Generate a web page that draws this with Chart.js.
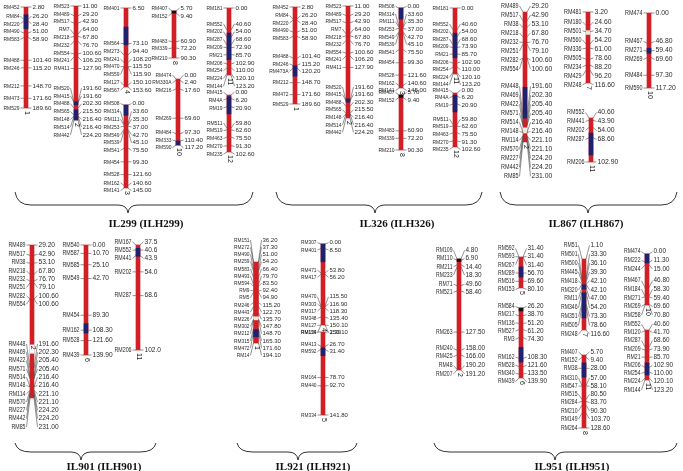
<!DOCTYPE html>
<html lang="en">
<head>
<meta charset="UTF-8">
<title>Linkage maps of introgression lines</title>
<style>
  html, body { margin: 0; padding: 0; background: #fff; }
  #wrap { width: 683px; height: 471px; }
</style>
</head>
<body>
<div id="wrap"><canvas id="mapChart" width="683" height="471"></canvas></div>

<script src="https://cdn.jsdelivr.net/npm/chart.js@4/dist/chart.umd.min.js"></script>
<script>
// ---- marker data (names + cM), segments: [from, to, kind] b=donor(blue) k=black p=pale w=gap
const lineTitles = ['IL299 (ILH299)', 'IL326 (ILH326)', 'IL867 (ILH867)', 'IL901 (ILH901)', 'IL921 (ILH921)', 'IL951 (ILH951)'];

const il299c1Names = ['RM452','RM84','RM220','RM490','RM583','RM488','RM246','RM212','RM473','RM529'];
const il299c1Pos = [2.8, 26.2, 28.4, 51.0, 58.9, 101.4, 115.2, 148.7, 171.6, 189.6];
const il299c1Seg = [[17, 43, 'b']];

const chr2aNames = ['RM523','RM489','RM517','RM7','RM218','RM232','RM554','RM241','RM411','RM520','RM415','RM488','RM565','RM148','RM514','RM442'];
const chr2aPos = [11.0, 29.2, 42.9, 64.0, 67.8, 76.7, 100.6, 106.2, 127.9, 191.6, 191.6, 202.3, 215.5, 216.4, 216.4, 224.2];
const il299c2Seg = [[190, 196, 'b'], [205, 224.2, 'b']];

const il299c4Names = ['RM401','RM564','RM273','RM241','RM470','RM559','RM127','RM567'];
const il299c4Pos = [6.5, 73.1, 94.4, 108.2, 115.5, 115.9, 150.1, 153.6];
const il299c4Seg = [[42, 75, 'b']];

const chr3Names = ['RM508','RM314','RM111','RM253','RM549','RM539','RM541','RM454','RM528','RM162','RM141'];
const chr3Pos = [0, 33.6, 35.3, 37.0, 42.7, 45.1, 75.5, 99.3, 121.6, 140.6, 145.0];
const il299c3Seg = [[0, 18, 'b']];

const chr8aNames = ['RM407','RM152','RM483','RM339','RM210'];
const chr8aPos = [5.7, 9.4, 60.9, 72.2, 90.3];
const chr8aSeg = [[5.7, 9.4, 'k']];

const il299c10Names = ['RM474','RM330A','RM216','RM269','RM484','RM333','RM590'];
const il299c10Pos = [0, 2.4, 17.6, 69.6, 97.3, 110.4, 117.2];
const il299c10Seg = [[110, 117.2, 'b']];

const chr11aNames = ['RM181','RM552','RM202','RM287','RM209','RM21','RM206','RM254','RM224','RM144'];
const il299c11Pos = [0, 40.6, 54.0, 68.6, 72.9, 85.7, 102.9, 110.0, 120.1, 123.2];
const il299c11Seg = [[46, 95, 'b']];

const chr12Names = ['RM415','RM4A','RM19','RM511','RM519','RM463','RM270','RM235'];
const chr12Pos = [0, 6.2, 20.9, 59.8, 62.6, 75.5, 91.3, 102.6];
const il299c12Seg = [[3, 34, 'b']];

const il326c1Names = ['RM452','RM84','RM220','RM490','RM583','RM488','RM246','RM473A','RM212','RM472','RM529'];
const il326c1Pos = [2.8, 26.2, 28.4, 51.0, 58.9, 101.4, 115.2, 120.2, 148.7, 171.6, 189.6];
const il326c1Seg = [[116, 136, 'b']];
const il326c2Seg = [[188, 194, 'b']];
const il326c3Seg = [[0, 20, 'b']];
const il326c11Pos = [0, 40.6, 54.0, 68.6, 73.9, 85.7, 102.9, 110.0, 120.1, 123.2];
const il326c11Seg = [[47, 93, 'b']];
const il326c12Seg = [[4, 36, 'b']];

const chr2bNames = ['RM489','RM517','RM38','RM218','RM232','RM251','RM282','RM554','RM448','RM469','RM422','RM571','RM514','RM148','RM114','RM570','RM227','RM442','RM85'];
const chr2bPos = [29.2, 42.9, 53.1, 67.8, 76.7, 79.1, 100.6, 100.6, 191.6, 202.3, 205.4, 205.4, 216.4, 216.4, 221.1, 221.1, 224.2, 224.2, 231.0];
const il867c2Seg = [[146, 194, 'b'], [209, 217, 'p']];
const il867c7Names = ['RM481','RM180','RM501','RM560','RM336','RM505','RM234','RM429','RM248'];
const il867c7Pos = [3.2, 24.6, 34.7, 54.2, 61.0, 78.6, 88.2, 96.2, 116.6];
const il867c7Seg = [[33, 39, 'p']];
const il867c10Names = ['RM474','RM467','RM271','RM269','RM484','RM590'];
const il867c10Pos = [0, 46.8, 59.4, 69.6, 97.3, 117.2];
const il867c10Seg = [[55, 63, 'b']];
const il867c11Names = ['RM552','RM441','RM202','RM287','RM206'];
const il867c11Pos = [40.6, 43.9, 54.0, 68.6, 102.9];
const il867c11Seg = [[62, 93, 'b']];

const il901c2Seg = [[161, 172, 'w']];
const il901c6Names = ['RM540','RM587','RM585','RM549','RM454','RM162','RM528','RM439'];
const il901c6Pos = [0, 10.7, 25.1, 42.7, 89.3, 108.3, 121.6, 139.9];
const il901c6Seg = [[100, 112, 'b']];
const il901c11Names = ['RM167','RM552','RM441','RM202','RM287','RM206'];
const il901c11Pos = [37.5, 40.6, 43.9, 54.0, 68.6, 102.0];
const il901c11Seg = [[39.5, 44.5, 'b']];

const il921c1Names = ['RM151','RM272','RM490','RM259','RM583','RM493','RM594','RM9','RM5','RM246','RM443','RM226','RM302','RM212','RM315','RM472','RM14'];
const il921c1Pos = [36.2, 37.3, 51.0, 54.2, 66.4, 79.7, 83.5, 92.4, 94.9, 115.2, 122.7, 135.7, 147.8, 148.7, 165.3, 171.6, 194.1];
const il921c1Seg = [[143, 149, 'p'], [168, 182, 'b']];
const il921c4Names = ['RM307','RM401','RM471','RM417','RM470','RM303','RM317','RM348','RM127','RM124'];
const il921c4Pos = [0, 8.5, 53.8, 56.2, 115.5, 116.9, 118.3, 135.4, 150.1, 150.1];
const il921c4Seg = [[0, 33, 'b']];
const il921c5Names = ['RM159','RM413','RM592','RM164','RM440','RM334'];
const il921c5Pos = [2.3, 26.7, 31.4, 78.7, 92.7, 141.8];
const il921c5Seg = [[29, 42, 'b']];

const il951c2Names = ['RM109','RM110','RM211','RM233','RM71','RM521','RM263','RM240','RM425','RM48','RM207'];
const il951c2Pos = [4.8, 6.9, 14.4, 18.3, 49.6, 58.4, 127.5, 158.0, 166.0, 190.2, 191.2];
const il951c2Seg = [[4.8, 9, 'k']];
const il951c5Names = ['RM592','RM593','RM267','RM289','RM516','RM153'];
const il951c5Pos = [31.4, 31.4, 31.4, 56.7, 69.6, 80.1];
const il951c5Seg = [[47, 63, 'b']];
const il951c6Names = ['RM584','RM217','RM136','RM527','RM3','RM162','RM528','RM340','RM439'];
const il951c6Pos = [26.2, 38.7, 51.2, 61.2, 74.3, 108.3, 121.6, 133.5, 139.9];
const il951c6Seg = [[26.2, 31, 'k'], [90, 114, 'b']];
const il951c7Names = ['RM51','RM501','RM500','RM445','RM418','RM320','RM11','RM346','RM351','RM505','RM248'];
const il951c7Pos = [1.1, 33.3, 36.1, 39.3, 42.1, 42.1, 47.0, 54.2, 73.3, 78.6, 116.6];
const il951c7Seg = [[43, 50, 'b'], [56, 97, 'b']];
const il951c8Names = ['RM407','RM152','RM38','RM310','RM547','RM515','RM284','RM210','RM149','RM264'];
const il951c8Pos = [5.7, 9.4, 28.0, 57.0, 58.1, 80.5, 83.7, 90.3, 103.7, 128.6];
const il951c8Seg = [[19, 43, 'b']];
const il951c10Names = ['RM474','RM222','RM244','RM467','RM184','RM271','RM269','RM258'];
const il951c10Pos = [0, 11.3, 15.0, 46.8, 58.3, 59.4, 69.6, 70.8];
const il951c10Seg = [[0, 12.5, 'b']];
const il951c11Names = ['RM552','RM120','RM287','RM209','RM21','RM206','RM254','RM224','RM144'];
const il951c11Pos = [40.6, 41.7, 68.6, 73.9, 85.7, 102.9, 110.0, 120.1, 123.2];
const il951c11Seg = [[95, 115, 'b']];

// ---- layout: where each panel / chromosome sits on the page (pixels)
const panels = [
  { x1: 15,  x2: 253, tip: 128, tx: 146, by: 192, mid: 13, tipH: 21, ty: 224, gap: 7.8, font: 6.2 },
  { x1: 276, x2: 482, tip: 375, tx: 397, by: 192, mid: 13, tipH: 21, ty: 224, gap: 7.6, font: 6.2 },
  { x1: 500, x2: 677, tip: 588, tx: 586, by: 192, mid: 13, tipH: 21, ty: 224, gap: 9.0, font: 6.8 },
  { x1: 15,  x2: 156, tip: 81,  tx: 104, by: 443, mid: 9,  tipH: 17, ty: 467, gap: 8.3, font: 6.6 },
  { x1: 237, x2: 357, tip: 298, tx: 313, by: 443, mid: 9,  tipH: 17, ty: 467, gap: 7.2, font: 6.0 },
  { x1: 434, x2: 677, tip: 555, tx: 572, by: 443, mid: 9,  tipH: 17, ty: 467, gap: 8.2, font: 6.4 }
];

const chroms = [
  { p: 0, chr: '1',  names: il299c1Names,  pos: il299c1Pos,  seg: il299c1Seg,  x: 26,  top: 7,   bottom: 108 },
  { p: 0, chr: '2',  names: chr2aNames,    pos: chr2aPos,    seg: il299c2Seg,  x: 76,  top: 6,   bottom: 120 },
  { p: 0, chr: '4',  names: il299c4Names,  pos: il299c4Pos,  seg: il299c4Seg,  x: 126, top: 8,   bottom: 87 },
  { p: 0, chr: '3',  names: chr3Names,     pos: chr3Pos,     seg: il299c3Seg,  x: 126, top: 105, bottom: 188 },
  { p: 0, chr: '8',  names: chr8aNames,    pos: chr8aPos,    seg: chr8aSeg,    x: 174, top: 11,  bottom: 58 },
  { p: 0, chr: '10', names: il299c10Names, pos: il299c10Pos, seg: il299c10Seg, x: 178, top: 79,  bottom: 145 },
  { p: 0, chr: '11', names: chr11aNames,   pos: il299c11Pos, seg: il299c11Seg, x: 229, top: 8,   bottom: 75 },
  { p: 0, chr: '12', names: chr12Names,    pos: chr12Pos,    seg: il299c12Seg, x: 229, top: 95,  bottom: 152 },

  { p: 1, chr: '1',  names: il326c1Names,  pos: il326c1Pos,  seg: il326c1Seg,  x: 295, top: 7,   bottom: 104 },
  { p: 1, chr: '2',  names: chr2aNames,    pos: chr2aPos,    seg: il326c2Seg,  x: 348, top: 6,   bottom: 118 },
  { p: 1, chr: '3',  names: chr3Names,     pos: chr3Pos,     seg: il326c3Seg,  x: 401, top: 8,   bottom: 88 },
  { p: 1, chr: '8',  names: chr8aNames,    pos: chr8aPos,    seg: chr8aSeg,    x: 401, top: 95,  bottom: 150 },
  { p: 1, chr: '11', names: chr11aNames,   pos: il326c11Pos, seg: il326c11Seg, x: 455, top: 8,   bottom: 74 },
  { p: 1, chr: '12', names: chr12Names,    pos: chr12Pos,    seg: il326c12Seg, x: 455, top: 93,  bottom: 147 },

  { p: 2, chr: '2',  names: chr2bNames,    pos: chr2bPos,    seg: il867c2Seg,  x: 525, top: 12,  bottom: 142 },
  { p: 2, chr: '7',  names: il867c7Names,  pos: il867c7Pos,  seg: il867c7Seg,  x: 588, top: 12,  bottom: 83 },
  { p: 2, chr: '10', names: il867c10Names, pos: il867c10Pos, seg: il867c10Seg, x: 649, top: 13,  bottom: 88 },
  { p: 2, chr: '11', names: il867c11Names, pos: il867c11Pos, seg: il867c11Seg, x: 591, top: 118, bottom: 162 },

  { p: 3, chr: '2',  names: chr2bNames,    pos: chr2bPos,    seg: il901c2Seg,  x: 32,  top: 245, bottom: 398, numAt: 166 },
  { p: 3, chr: '6',  names: il901c6Names,  pos: il901c6Pos,  seg: il901c6Seg,  x: 86,  top: 245, bottom: 355 },
  { p: 3, chr: '11', names: il901c11Names, pos: il901c11Pos, seg: il901c11Seg, x: 138, top: 245, bottom: 350, dec: 1 },

  { p: 4, chr: '1',  names: il921c1Names,  pos: il921c1Pos,  seg: il921c1Seg,  x: 256, top: 262, bottom: 343, w: 5 },
  { p: 4, chr: '4',  names: il921c4Names,  pos: il921c4Pos,  seg: il921c4Seg,  x: 323, top: 244, bottom: 325 },
  { p: 4, chr: '5',  names: il921c5Names,  pos: il921c5Pos,  seg: il921c5Seg,  x: 323, top: 332, bottom: 415 },

  { p: 5, chr: '2',  names: il951c2Names,  pos: il951c2Pos,  seg: il951c2Seg,  x: 459, top: 259, bottom: 370 },
  { p: 5, chr: '5',  names: il951c5Names,  pos: il951c5Pos,  seg: il951c5Seg,  x: 521, top: 257, bottom: 288 },
  { p: 5, chr: '6',  names: il951c6Names,  pos: il951c6Pos,  seg: il951c6Seg,  x: 521, top: 308, bottom: 378 },
  { p: 5, chr: '7',  names: il951c7Names,  pos: il951c7Pos,  seg: il951c7Seg,  x: 584, top: 259, bottom: 330, gap: 8.9 },
  { p: 5, chr: '8',  names: il951c8Names,  pos: il951c8Pos,  seg: il951c8Seg,  x: 584, top: 355, bottom: 428 },
  { p: 5, chr: '10', names: il951c10Names, pos: il951c10Pos, seg: il951c10Seg, x: 647, top: 254, bottom: 305, gap: 8.6 },
  { p: 5, chr: '11', names: il951c11Names, pos: il951c11Pos, seg: il951c11Seg, x: 647, top: 330, bottom: 380 }
];

const W = 683, H = 471;
const segColors = { r: '#d21f26', b: '#1f216e', k: '#111111', p: '#e6ede0', w: '#ffffff' };

// build one dataset + one hidden y axis per chromosome
const datasets = [];
const scales = { x: { type: 'linear', min: 0, max: W, display: false, offset: false } };
chroms.forEach((c, i) => {
  const a = c.pos[0], b = c.pos[c.pos.length - 1];
  const ppc = (c.bottom - c.top) / (b - a);
  const min = a - c.top / ppc;
  scales['y' + i] = { type: 'linear', display: false, reverse: true, min: min, max: min + H / ppc,
                      stacked: false, beginAtZero: false, bounds: 'data' };
  const segs = [[a, b, 'r']].concat(c.seg);
  datasets.push({
    type: 'bar',
    yAxisID: 'y' + i,
    stack: 'map',
    barThickness: c.w || 4,
    data: segs.map(s => ({ x: c.x, y: [s[0], s[1]] })),
    backgroundColor: segs.map(s => segColors[s[2]]),
    borderWidth: 0
  });
});

// push overlapping labels apart, keeping each cluster centred on its markers
function spread(ys, gap) {
  let groups = ys.map(y => ({ items: [y], top: y }));
  let merged = true;
  while (merged) {
    merged = false;
    for (let g = 0; g < groups.length - 1; g++) {
      const a = groups[g], b = groups[g + 1];
      if (a.top + a.items.length * gap > b.top + 0.01) {
        const items = a.items.concat(b.items);
        const mean = items.reduce((s, v) => s + v, 0) / items.length;
        groups.splice(g, 2, { items: items, top: mean - (items.length - 1) * gap / 2 });
        merged = true;
        break;
      }
    }
  }
  const out = [];
  groups.forEach(g => g.items.forEach((_, k) => out.push(g.top + k * gap)));
  return out;
}

const mapLabels = {
  id: 'mapLabels',
  afterDatasetsDraw(chart) {
    const ctx = chart.ctx;
    const xs = chart.scales.x;
    chroms.forEach((c, i) => {
      const ys = chart.scales['y' + i];
      const p = panels[c.p];
      const bx = xs.getPixelForValue(c.x);
      const half = (c.w || 4) / 2;
      const trueY = c.pos.map(v => ys.getPixelForValue(v));
      const labY = spread(trueY, c.gap || p.gap);
      ctx.save();
      ctx.strokeStyle = '#4a4a4a';
      ctx.lineWidth = 0.6;
      ctx.fillStyle = '#2b2b2b';
      ctx.font = p.font + 'px "Liberation Sans", Arial, sans-serif';
      ctx.textBaseline = 'middle';
      trueY.forEach((ty, k) => {
        const ly = labY[k];
        ctx.beginPath();
        ctx.moveTo(bx - half, ty); ctx.lineTo(bx - 5.5, ly);
        ctx.moveTo(bx + half, ty); ctx.lineTo(bx + 5.5, ly);
        ctx.stroke();
        ctx.save();
        ctx.translate(bx - 6.5, ly);
        ctx.scale(0.8, 1);
        ctx.textAlign = 'right';
        ctx.fillText(c.names[k], 0, 0);
        ctx.restore();
        ctx.textAlign = 'left';
        ctx.fillText(c.pos[k].toFixed(c.dec || 2), bx + 6.5, ly);
      });
      // chromosome number, rotated like the original
      const ny = c.numAt !== undefined ? ys.getPixelForValue(c.numAt) - 3 : ys.getPixelForValue(c.pos[c.pos.length - 1]) + 3;
      ctx.translate(bx + 0.5, ny);
      ctx.rotate(Math.PI / 2);
      ctx.font = '7px "Liberation Sans", Arial, sans-serif';
      ctx.textAlign = 'left';
      ctx.fillStyle = '#222';
      ctx.fillText(c.chr, 0, 0);
      ctx.restore();
    });
  },
  afterDraw(chart) {
    const ctx = chart.ctx;
    panels.forEach((p, i) => {
      const y0 = p.by, y1 = p.by + p.mid, y2 = p.by + p.tipH;
      ctx.save();
      ctx.strokeStyle = '#333';
      ctx.lineWidth = 1;
      ctx.beginPath();
      ctx.moveTo(p.x1, y0);
      ctx.quadraticCurveTo(p.x1 + 2, y1, p.x1 + 16, y1);
      ctx.lineTo(p.tip - 10, y1);
      ctx.quadraticCurveTo(p.tip - 1, y1, p.tip, y2);
      ctx.quadraticCurveTo(p.tip + 1, y1, p.tip + 10, y1);
      ctx.lineTo(p.x2 - 16, y1);
      ctx.quadraticCurveTo(p.x2 - 2, y1, p.x2, y0);
      ctx.stroke();
      ctx.fillStyle = '#111';
      ctx.font = 'bold 11px "Liberation Serif", "Times New Roman", serif';
      ctx.textAlign = 'center';
      ctx.textBaseline = 'middle';
      ctx.fillText(lineTitles[i], p.tx, p.ty);
      ctx.restore();
    });
  }
};

new Chart(document.getElementById('mapChart'), {
  type: 'bar',
  data: { datasets: datasets },
  options: {
    responsive: false,
    animation: false,
    events: [],
    layout: { padding: 0 },
    datasets: { bar: { grouped: true } },
    plugins: { legend: { display: false }, tooltip: { enabled: false }, title: { display: false } },
    scales: scales
  },
  plugins: [mapLabels]
});
</script>
</body>
</html>
